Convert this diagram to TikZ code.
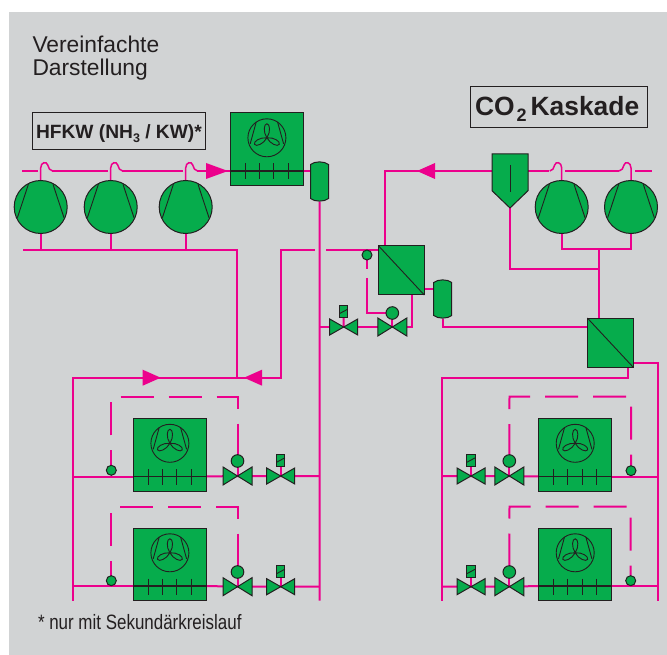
\documentclass[tikz,border=0pt]{standalone}
\usepackage{fontspec}
\setmainfont{Liberation Sans}
\usetikzlibrary{calc}
\definecolor{bggray}{HTML}{D1D3D4}
\definecolor{pipecol}{HTML}{EC008C}
\definecolor{compgreen}{HTML}{06AC4C}
\definecolor{inkcol}{HTML}{231F20}
\pgfdeclarelayer{backdrop}
\pgfdeclarelayer{lines}
\pgfsetlayers{backdrop,lines,main}
\tikzset{
  pipe/.style={draw=pipecol,line width=2pt},
  unit/.style={draw=inkcol,fill=compgreen,line width=1pt,inner sep=0pt,outer sep=0pt},
  ink/.style={draw=inkcol,line width=0.9pt},
  thickink/.style={draw=inkcol,line width=1.6pt},
  loopdash/.style={pipe,dash pattern=on #1 off 15 on 33 off 15 on 33 off 15 on 33 off 15 on 33 off 15 on 200},
  flowtip/.style={fill=pipecol,draw=none},
  label/.style={inner sep=0pt,outer sep=0pt,text=inkcol,align=left},
  titlebox/.style={draw=inkcol,line width=1pt,inner sep=0pt,outer sep=0pt,fill=none},
}
% name, x, y
\newcommand{\CompUnit}[3]{%
  \node[unit,circle,minimum size=53pt] (#1) at (#2,#3) {};
  \begin{scope}[shift={(#2,#3)}]
    \draw[ink] (-12.3,-22.7) -- (-23.3,10.7);
    \draw[ink] (12.3,-22.7) -- (23.3,10.7);
  \end{scope}}
% name, left x, top y
\newcommand{\CoolUnit}[3]{%
  \node[unit,rectangle,anchor=north west,minimum width=73.5pt,minimum height=72.5pt] (#1) at (#2,#3) {};
  \begin{scope}[shift={(#2,#3)}]
    \coordinate (#1-l) at (0,58);
    \coordinate (#1-r) at (73.5,58);
    \draw[thickink] (#1-l) -- (#1-r);
    \foreach \tx in {15,29.4,43.8,58.2} \draw[ink] (\tx,50.5) -- (\tx,66.5);
    \begin{scope}[shift={(36.9,24.8)}]
      \draw[ink] (0,0) circle (19);
      \draw[ink] (-10.7,-15.7) -- (-16.7,6);
      \draw[ink] (10.7,-15.7) -- (16.7,6);
      \foreach \ang in {0,118,242}
        \draw[ink,rotate=\ang] (0,0) .. controls (-4,-6) and (-3,-14) .. (0,-14) .. controls (3,-14) and (4,-6) .. (0,0);
    \end{scope}
  \end{scope}}
% name, x, y, half width, half height
\newcommand{\ValveUnit}[5]{%
  \coordinate (#1) at (#2,#3);
  \draw[unit,line join=miter] ($(#1)+(-#4,-#5)$) -- ($(#1)+(#4,#5)$) -- ($(#1)+(#4,-#5)$) -- ($(#1)+(-#4,#5)$) -- cycle;}
% name, x, y
\newcommand{\SolBox}[3]{%
  \node[unit,rectangle,minimum width=8.4pt,minimum height=12.3pt] (#1) at (#2,#3) {};
  \draw[ink] ($(#1)+(-4.2,2)$) -- ($(#1)+(4.2,-2.5)$);}
% name, x, y, r
\newcommand{\BallUnit}[4]{%
  \node[unit,circle,minimum size=#4pt] (#1) at (#2,#3) {};}
% name, left, top, width, height
\newcommand{\ExchUnit}[5]{%
  \node[unit,rectangle,anchor=north west,minimum width=#4pt,minimum height=#5pt] (#1) at (#2,#3) {};
  \draw[ink] (#1.north west) -- (#1.south east);}
% name, center x, top, bottom
\newcommand{\DrumUnit}[4]{%
  \coordinate (#1-t) at (#2,#3);
  \coordinate (#1-b) at (#2,#4);
  \draw[unit] ($(#1-t)+(-9,3.5)$) .. controls ($(#1-t)+(-5,0)$) and ($(#1-t)+(5,0)$) .. ($(#1-t)+(9,3.5)$)
     -- ($(#1-b)+(9,-3.5)$) .. controls ($(#1-b)+(5,0)$) and ($(#1-b)+(-5,0)$) .. ($(#1-b)+(-9,-3.5)$) -- cycle;}
\begin{document}
\begin{tikzpicture}[x=1pt,y=-1pt]
\useasboundingbox (0,0) rectangle (667,655);
\begin{pgfonlayer}{backdrop}
  \fill[bggray] (9,12) rectangle (667,655);
\end{pgfonlayer}

% --- texts ---
\node[label,anchor=north west,font=\fontsize{22.8}{23}\selectfont] (ttl) at (32.5,36.4) {Vereinfachte\\Darstellung};
\node[titlebox,anchor=north west,minimum width=173pt,minimum height=36.5pt] (hfbox) at (32,113) {};
\node[label,anchor=base west,font=\bfseries\fontsize{19.2}{22}\selectfont] (hftxt) at (36,139) {HFKW (NH\raisebox{-3.3pt}{\fontsize{12.5}{12.5}\selectfont 3} / KW)*};
\node[titlebox,anchor=north west,minimum width=177.5pt,minimum height=41pt] (cobox) at (470,86.3) {};
\node[label,anchor=base west,font=\bfseries\fontsize{26.4}{30}\selectfont] (cotxt) at (475,116) {CO\kern2pt\raisebox{-5.7pt}{\fontsize{18}{18}\selectfont 2}\kern4pt Kaskade};
\node[label,anchor=base west,font=\fontsize{20.8}{24}\selectfont] (note) at (38,629) {\scalebox{0.815}[1]{* nur mit Sekundärkreislauf}};

% --- components ---
\CompUnit{ca}{40.7}{207}
\CompUnit{cb}{110.7}{207}
\CompUnit{cc}{185.7}{207}
\CompUnit{cd}{561.7}{207}
\CompUnit{ce}{631}{207}
\CoolUnit{cond}{230}{113}
\DrumUnit{rca}{319.5}{161}{202}
\DrumUnit{rcb}{442.7}{279}{319}
\ExchUnit{hxa}{378.7}{246}{45.6}{49}
\ExchUnit{hxb}{587.3}{318}{45.7}{49}
\draw[unit] (492,154) -- (528,154) -- (528,190.7) -- (510,208) -- (492,190.7) -- cycle;
\coordinate (sep-l) at (492,171);
\coordinate (sep-r) at (528,171);
\coordinate (sep-b) at (510,208);
\draw[ink] (510,165) -- (510,192);

\ValveUnit{sva}{343.7}{327}{14}{8}
\ValveUnit{mva}{392.3}{327}{14.5}{9}
\SolBox{sba}{343.5}{311.7}
\BallUnit{bla}{392.3}{313}{12.6}
\BallUnit{sna}{367}{255}{10}

\CoolUnit{ea}{133}{418.5}
\CoolUnit{eb}{133}{528}
\CoolUnit{ec}{538.3}{418.5}
\CoolUnit{ed}{538.3}{528}

\ValveUnit{mvb}{237.5}{476}{14.5}{9}
\ValveUnit{svb}{280.7}{476}{14}{8}
\ValveUnit{mvc}{237.5}{586.7}{14.5}{9}
\ValveUnit{svc}{280.7}{586.7}{14}{8}
\ValveUnit{svd}{471}{476}{14}{8}
\ValveUnit{mvd}{509.3}{476}{14.5}{9}
\ValveUnit{sve}{471}{586.7}{14}{8}
\ValveUnit{mve}{509.3}{586.7}{14.5}{9}
\SolBox{sbb}{280.7}{460.3}
\SolBox{sbc}{280.7}{571.7}
\SolBox{sbd}{471}{460.3}
\SolBox{sbe}{471}{571.7}
\BallUnit{blb}{237.5}{461}{12.6}
\BallUnit{blc}{237.5}{572}{12.6}
\BallUnit{bld}{509.3}{461}{12.6}
\BallUnit{ble}{509.3}{572}{12.6}
\BallUnit{snb}{111.3}{470.3}{10}
\BallUnit{snc}{111.3}{580.7}{10}
\BallUnit{snd}{631}{470.7}{10}
\BallUnit{sne}{630.7}{580.7}{10}

% --- free ends and junctions ---
\coordinate (railL) at (73.3,377.7);
\coordinate (railLend) at (73.3,600.7);
\coordinate (railM) at (319.7,600.7);
\coordinate (railR) at (658,363);
\coordinate (railRend) at (658,600.7);
\coordinate (railK) at (441.7,378);
\coordinate (railKend) at (441.7,600.7);
\coordinate (suctL) at (23,250);
\coordinate (suctT) at (237,250);
\coordinate (juncM) at (237,377.7);
\coordinate (headL) at (22,171);
\coordinate (suctR) at (599,249.5);
\coordinate (hxaIn) at (378.7,250);
\coordinate (liqA) at (412,295);

\begin{pgfonlayer}{lines}
  % left group discharge
  \draw[pipe] (headL) -- (37.7,171);
  \draw[pipe] (51.7,171) -- (108,171);
  \draw[pipe] (121.7,171) -- (183,171);
  \draw[pipe] (196.7,171) -- (cond-l);
  \foreach \cn/\cx in {ca/40.7,cb/110.7,cc/185.7}
    \draw[pipe,line width=1.5pt] (\cn.north) -- (\cx,168) .. controls (\cx,162) and (\cx+6,161) .. (\cx+7,165) .. controls (\cx+8,168) and (\cx+9,171) .. (\cx+12,171);
  \draw[pipe] (cond-r) -- (rca-t |- cond-r);
  % left group suction
  \draw[pipe] (suctL) -- (suctT) -- (juncM);
  \foreach \cn in {ca,cb,cc} \draw[pipe] (\cn.south) -- (\cn.south |- suctL);
  \draw[pipe] (railLend) -- (railL) -- (juncM);
  \draw[pipe] (juncM) -- (262,377.7);
  \draw[pipe,dash pattern=on 53 off 11 on 500] (hxaIn) -- (281,250) -- (281,377.7) -- (juncM);
  % centre rail
  \draw[pipe] (rca-b) -- (railM);
  \draw[pipe] (319.7,327) -- (sva) -- (mva) -- (liqA |- mva) -- (liqA);
  \draw[pipe] (sba) -- (sva);
  \draw[pipe] (bla) -- (mva);
  \draw[pipe,dash pattern=on 9 off 9 on 500] (sna.south) -- (367,313) -- (bla);
  % HX a
  \draw[pipe] (384.5,246) -- (384.5,171) -- (sep-l);
  \draw[pipe] (424.3,289) -- (434,289);
  \draw[pipe] (rcb-b) -- (442.7,327) -- (587.3,327);
  % CO2 side
  \draw[pipe] (sep-r) -- (549,171);
  \draw[pipe] (565,171) -- (619,171);
  \draw[pipe] (635,171) -- (652,171);
  \foreach \cn/\cx in {cd/561.7,ce/631}
    \draw[pipe,line width=1.5pt] (\cn.north) -- (\cx,168) .. controls (\cx,162) and (\cx-6,161) .. (\cx-7,165) .. controls (\cx-8,168) and (\cx-9,171) .. (\cx-12,171);
  \draw[pipe] (cd.south) -- (561.7,249.5) -- (631,249.5) -- (ce.south);
  \draw[pipe] (suctR) -- (599,318);
  \draw[pipe] (sep-b) -- (510,269) -- (599,269);
  \draw[pipe] (633,363) -- (railR) -- (railRend);
  \draw[pipe] (628,367) -- (628,378) -- (railK) -- (railKend);
  % evaporator rows, left
  \draw[pipe] (ea-l -| railL) -- (ea-l);
  \draw[pipe] (ea-r) -- (mvb) -- (svb) -- (svb -| railM);
  \draw[pipe] (eb-l -| railL) -- (eb-l);
  \draw[pipe] (eb-r) -- (mvc) -- (svc) -- (svc -| railM);
  \draw[pipe] (blb) -- (mvb); \draw[pipe] (sbb) -- (svb);
  \draw[pipe] (blc) -- (mvc); \draw[pipe] (sbc) -- (svc);
  \draw[loopdash=15] (111.3,465.3) -- (111.3,396.5) -- (237.5,396.5) -- (blb);
  \draw[loopdash=15] (111.3,575.7) -- (111.3,506.7) -- (237.5,506.7) -- (blc);
  % evaporator rows, right
  \draw[pipe] (svd -| railK) -- (svd) -- (mvd) -- (ec-l);
  \draw[pipe] (ec-r) -- (ec-r -| railR);
  \draw[pipe] (sve -| railK) -- (sve) -- (mve) -- (ed-l);
  \draw[pipe] (ed-r) -- (ed-r -| railR);
  \draw[pipe] (bld) -- (mvd); \draw[pipe] (sbd) -- (svd);
  \draw[pipe] (ble) -- (mve); \draw[pipe] (sbe) -- (sve);
  \draw[loopdash=11] (631,465.7) -- (631,396.7) -- (509.5,396.7) -- (bld);
  \draw[loopdash=10] (630.7,575.7) -- (630.7,506.7) -- (509.5,506.7) -- (ble);
\end{pgfonlayer}

% --- flow arrows ---
\fill[flowtip] (206,163) -- (228,171) -- (206,179) -- cycle;
\fill[flowtip] (435,163) -- (417,171) -- (435,179) -- cycle;
\fill[flowtip] (142.7,369.7) -- (160.7,377.7) -- (142.7,385.7) -- cycle;
\fill[flowtip] (262,369.7) -- (244,377.7) -- (262,385.7) -- cycle;
\end{tikzpicture}
\end{document}
